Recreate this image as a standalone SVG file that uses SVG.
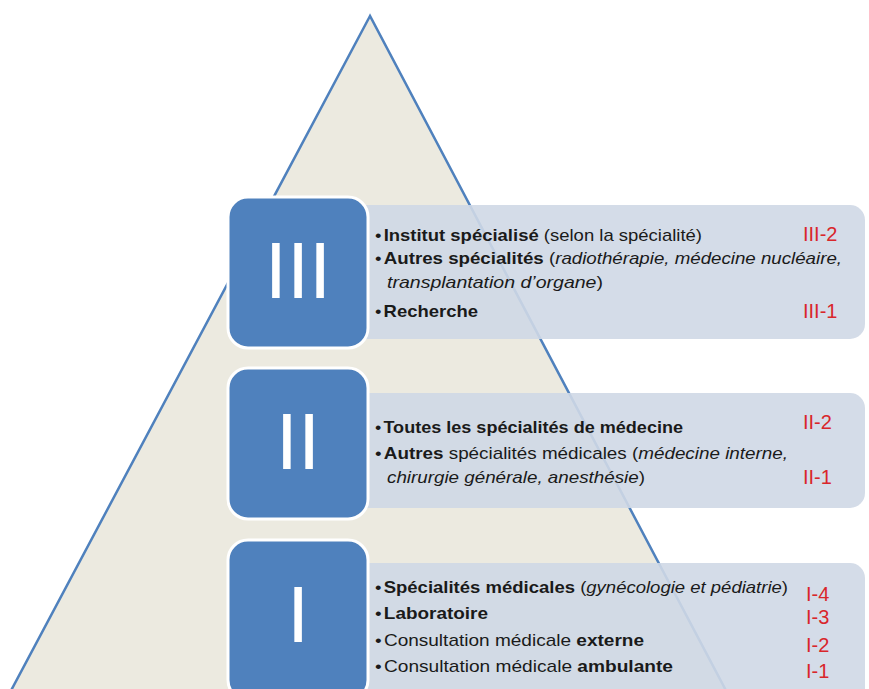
<svg xmlns="http://www.w3.org/2000/svg" width="869" height="689" viewBox="0 0 869 689">
<style>
.tri{fill:#ECEAE0;stroke:#4F81BD;stroke-width:2.5}
.sq{fill:#4F81BD;stroke:#FFFFFF;stroke-width:3}
.num{font-family:"Liberation Sans",Arial,sans-serif;font-size:80px;fill:#FFFFFF;text-anchor:middle}
.box{fill:#CFD8E6;fill-opacity:0.9}
.t{font-family:"Liberation Sans",Arial,sans-serif;font-size:17px;fill:#1A1A1A}
.b{font-weight:bold}
.i{font-style:italic}
.r{font-family:"Liberation Sans",Arial,sans-serif;font-size:20px;fill:#D9262B}
</style>
<rect width="869" height="689" fill="#FFFFFF"/>
<polygon class="tri" points="370,16 6,700 731,700"/>
<g id="level3">
<rect class="box" x="300" y="205" width="565" height="134" rx="15"/>
<rect class="sq" x="228" y="197" width="140" height="151" rx="20"/>
<text class="num" x="298" y="298">III</text>
<text class="t" x="375" y="241" textLength="327" lengthAdjust="spacingAndGlyphs"><tspan>•</tspan><tspan class="b" dx="2">Institut spécialisé</tspan> (selon la spécialité)</text>
<text class="t" x="375" y="264" textLength="467" lengthAdjust="spacingAndGlyphs"><tspan>•</tspan><tspan class="b" dx="2">Autres spécialités</tspan> (<tspan class="i">radiothérapie, médecine nucléaire,</tspan></text>
<text class="t" x="387" y="288" textLength="216" lengthAdjust="spacingAndGlyphs"><tspan class="i">transplantation d’organe</tspan>)</text>
<text class="t" x="375" y="317" textLength="103" lengthAdjust="spacingAndGlyphs"><tspan>•</tspan><tspan class="b" dx="2">Recherche</tspan></text>
<text class="r" x="803" y="241">III-2</text>
<text class="r" x="803" y="318">III-1</text>
</g>
<g id="level2">
<rect class="box" x="300" y="393" width="565" height="115" rx="15"/>
<rect class="sq" x="228" y="368" width="140" height="151" rx="20"/>
<text class="num" x="298" y="469">II</text>
<text class="t" x="375" y="433" textLength="308" lengthAdjust="spacingAndGlyphs"><tspan>•</tspan><tspan class="b" dx="2">Toutes les spécialités de médecine</tspan></text>
<text class="t" x="375" y="459" textLength="413" lengthAdjust="spacingAndGlyphs"><tspan>•</tspan><tspan class="b" dx="2">Autres</tspan> spécialités médicales (<tspan class="i">médecine interne,</tspan></text>
<text class="t" x="387" y="483" textLength="258" lengthAdjust="spacingAndGlyphs"><tspan class="i">chirurgie générale, anesthésie</tspan>)</text>
<text class="r" x="803" y="429">II-2</text>
<text class="r" x="803" y="484">II-1</text>
</g>
<g id="level1">
<rect class="box" x="300" y="563" width="565" height="140" rx="15"/>
<rect class="sq" x="228" y="540" width="140" height="160" rx="20"/>
<text class="num" x="298" y="642">I</text>
<text class="t" x="375" y="593" textLength="413" lengthAdjust="spacingAndGlyphs"><tspan>•</tspan><tspan class="b" dx="2">Spécialités médicales</tspan> (<tspan class="i">gynécologie et pédiatrie</tspan>)</text>
<text class="t" x="375" y="619" textLength="113" lengthAdjust="spacingAndGlyphs"><tspan>•</tspan><tspan class="b" dx="2">Laboratoire</tspan></text>
<text class="t" x="375" y="646" textLength="269" lengthAdjust="spacingAndGlyphs"><tspan>•</tspan><tspan dx="2">Consultation médicale </tspan><tspan class="b">externe</tspan></text>
<text class="t" x="375" y="672" textLength="298" lengthAdjust="spacingAndGlyphs"><tspan>•</tspan><tspan dx="2">Consultation médicale </tspan><tspan class="b">ambulante</tspan></text>
<text class="r" x="806" y="601">I-4</text>
<text class="r" x="806" y="624">I-3</text>
<text class="r" x="806" y="652">I-2</text>
<text class="r" x="806" y="678">I-1</text>
</g>
</svg>
